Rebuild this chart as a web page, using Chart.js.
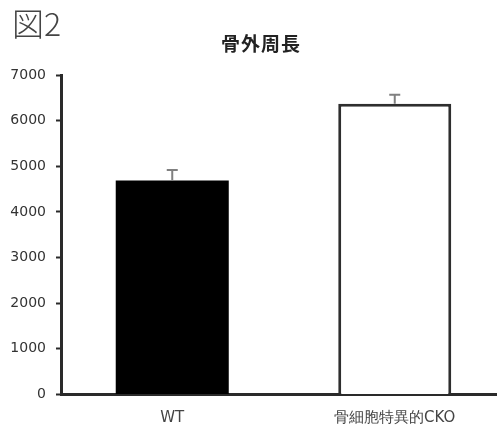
<!DOCTYPE html>
<html>
<head>
<meta charset="utf-8">
<script src="https://cdn.jsdelivr.net/npm/chart.js@4/dist/chart.umd.min.js"></script>
<style>
  html, body { margin: 0; padding: 0; background: #fff; overflow: hidden; }
  #wrap { position: relative; width: 506px; height: 426px; }
  #fig { position: absolute; left: 12px; top: 6px; font: 300 32px/32px "Noto Sans CJK JP", sans-serif; color: #444; z-index: 2; }
  #ttl { position: absolute; left: 161px; top: 33px; width: 200px; text-align: center; font: bold 19px/20px "Noto Sans CJK JP", sans-serif; letter-spacing: 1px; color: #222; z-index: 2; }
</style>
</head>
<body>
<div id="wrap">
  <div id="fig">図2</div>
  <div id="ttl">骨外周長</div>
  <canvas id="c" width="506" height="426"></canvas>
</div>
<script>
// Bone outer perimeter: mean and SD per group
const categories = ['WT', '骨細胞特異的CKO'];
const means = [4690, 6370];
const errors = [230, 200];
const yTicks = [0, 1000, 2000, 3000, 4000, 5000, 6000, 7000];

// Upward-only error bars with a short cap
const errorBars = {
  id: 'errorBars',
  afterDatasetsDraw(chart) {
    const ctx = chart.ctx;
    const y = chart.scales.y;
    const meta = chart.getDatasetMeta(0);
    ctx.save();
    ctx.strokeStyle = '#808080';
    ctx.lineWidth = 2;
    meta.data.forEach((bar, i) => {
      const yTop = y.getPixelForValue(means[i] + errors[i]);
      const yBase = y.getPixelForValue(means[i]);
      ctx.beginPath();
      ctx.moveTo(bar.x, yBase);
      ctx.lineTo(bar.x, yTop);
      ctx.moveTo(bar.x - 5.5, yTop);
      ctx.lineTo(bar.x + 5.5, yTop);
      ctx.stroke();
    });
    ctx.restore();
  }
};

new Chart(document.getElementById('c'), {
  type: 'bar',
  data: {
    labels: categories,
    datasets: [{
      data: means,
      backgroundColor: ['#000000', '#ffffff'],
      borderColor: ['#000000', '#2e2e2e'],
      borderWidth: [0, 3],
      borderSkipped: 'start',
      barPercentage: 0.508,
      categoryPercentage: 1
    }]
  },
  options: {
    responsive: false,
    animation: false,
    events: [],
    layout: { padding: { left: 0, right: 0, top: 75, bottom: 0 } },
    plugins: {
      legend: { display: false },
      tooltip: { enabled: false },
      title: { display: false }
    },
    scales: {
      x: {
        afterFit(scale) { scale.height = 31.5; },
        grid: { display: false, drawTicks: false, tickLength: 0 },
        border: { display: true, width: 3, color: '#2a2a2a' },
        ticks: {
          color: '#444',
          padding: 15,
          font: { family: '"DejaVu Sans", sans-serif', size: 15 }
        }
      },
      y: {
        min: 0,
        max: 7000,
        afterBuildTicks(scale) { scale.ticks = yTicks.map(v => ({ value: v })); },
        afterFit(scale) { scale.width = 61; },
        grid: { display: true, drawOnChartArea: false, drawTicks: true, tickLength: 5, tickWidth: 2, tickColor: '#2a2a2a' },
        border: { display: true, width: 3, color: '#2a2a2a' },
        ticks: {
          color: '#333',
          padding: 10,
          callback: (v) => String(v),
          font: { family: '"DejaVu Sans", sans-serif', size: 14 }
        }
      }
    }
  },
  plugins: [errorBars]
});
</script>
</body>
</html>
